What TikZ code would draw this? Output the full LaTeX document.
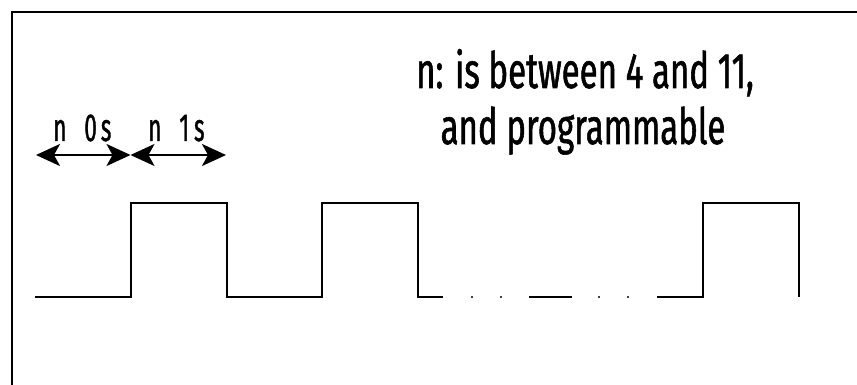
\documentclass[tikz,border=0pt]{standalone}
\usepackage{fontspec}
\setmainfont[FakeStretch=0.66,FakeBold=1.1]{Fira Sans}
\usetikzlibrary{arrows.meta}
\begin{document}
\begin{tikzpicture}[x=1pt,y=-1pt,
  frame/.style={line width=2.4pt, line cap=rect},
  wave/.style={line width=2pt, line join=miter},
  dim/.style={line width=2pt, {Stealth[length=24pt,width=22pt,inset=6pt]}-{Stealth[length=24pt,width=22pt,inset=6pt]}},
  bigtxt/.style={font=\fontsize{50}{54}\selectfont, inner sep=0pt, anchor=base},
  smalltxt/.style={font=\fontsize{34}{36}\selectfont, inner sep=0pt, anchor=base west},
  dot/.style={fill=black, circle, inner sep=0pt, minimum size=2.4pt}]
\useasboundingbox (0,0) rectangle (857,385);
% frame (only top and left edges visible)
\draw[frame] (12,390) -- (12,12) -- (862,12);
% labels
\node[bigtxt] (t1) at (585,88) {n: is between 4 and 11,};
\node[bigtxt] (t2) at (583,144) {and programmable};
\node[smalltxt] (l0) at (53,141) {\scalebox{1}[1.15]{n\hspace{18pt}0\hspace{4pt}s}};
\node[smalltxt] (l1) at (148,141) {\scalebox{1}[1.15]{n\hspace{18pt}1\hspace{5pt}s}};
% dimension arrows
\coordinate (a0) at (36,155);
\coordinate (a1) at (130.5,155);
\coordinate (a2) at (226,155);
\draw[dim] (a0) -- (a1);
\draw[dim] (a1) -- (a2);
% waveform
\draw[wave] (35,297) -- (131,297) -- (131,203) -- (227,203) -- (227,297)
  -- (322,297) -- (322,203) -- (418,203) -- (418,297) -- (443,297);
\node[dot] (d1) at (472,297) {};
\node[dot] (d2) at (501,297) {};
\draw[wave] (529,297) -- (572,297);
\node[dot] (d3) at (599,297) {};
\node[dot] (d4) at (628,297) {};
\draw[wave] (657,297) -- (703,297) -- (703,203) -- (799,203) -- (799,297);
\end{tikzpicture}
\end{document}
